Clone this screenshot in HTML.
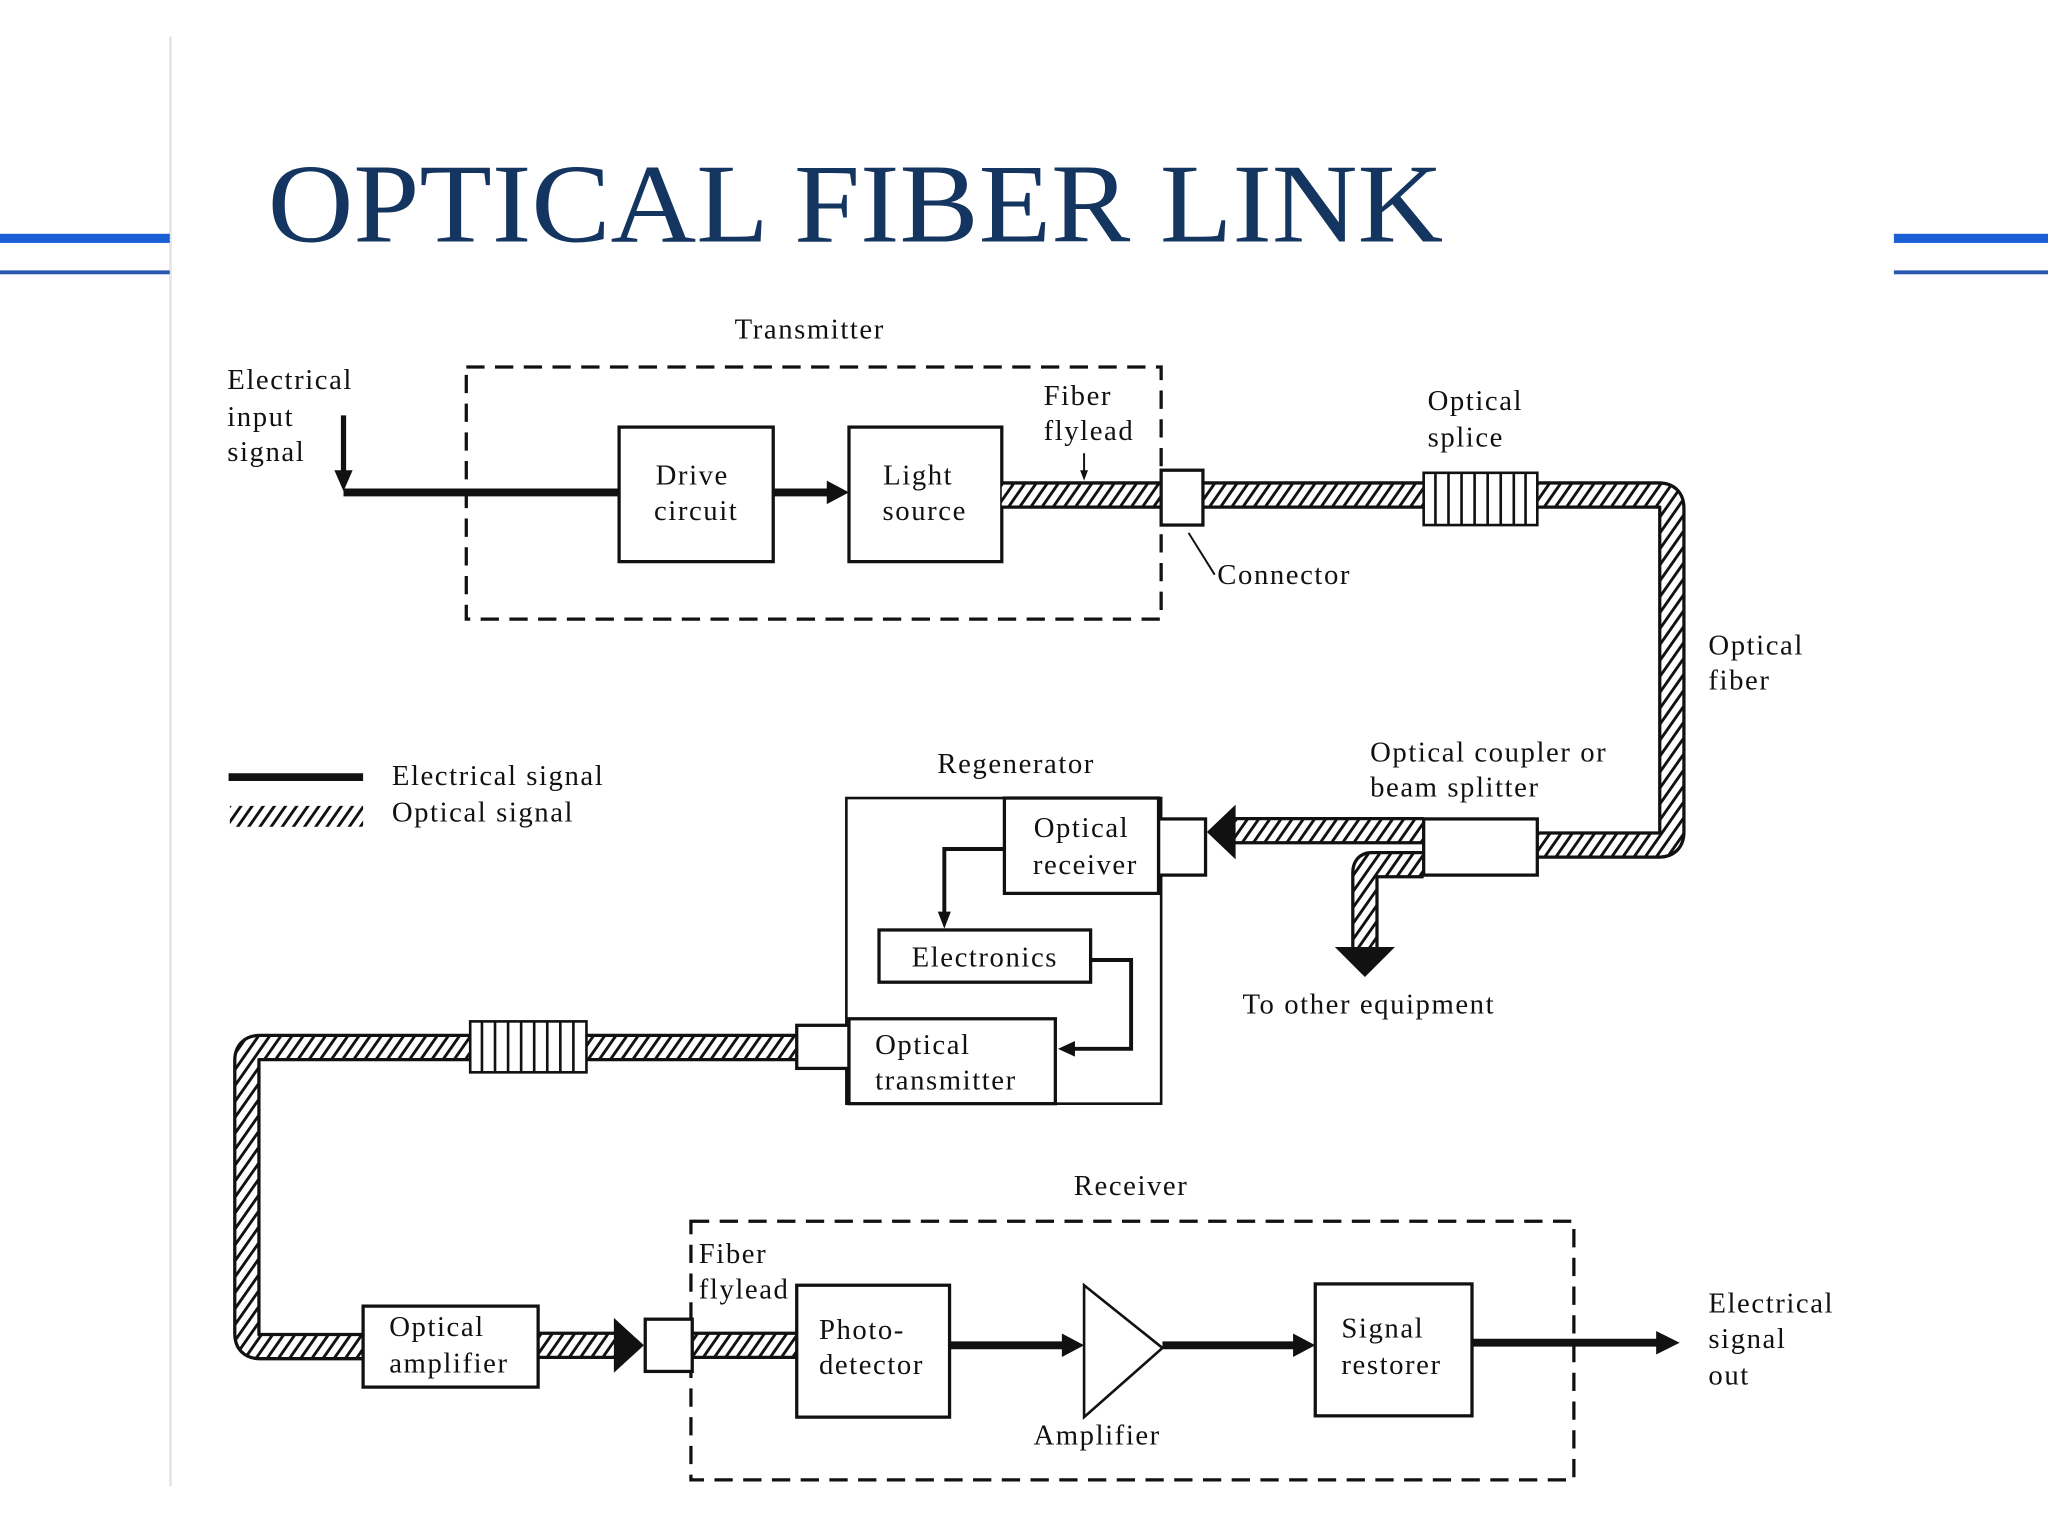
<!DOCTYPE html>
<html><head><meta charset="utf-8"><style>
html,body{margin:0;padding:0;background:#fff;}
svg{display:block;}
text{font-family:"Liberation Serif",serif;fill:#111;}
g.t text{letter-spacing:1.2px;}
</style></head><body>
<svg width="2048" height="1536" viewBox="0 0 1568 1176" xmlns="http://www.w3.org/2000/svg">
<defs>
<pattern id="h" patternUnits="userSpaceOnUse" width="7" height="7" patternTransform="rotate(35)">
<rect width="7" height="7" fill="#fff"/><rect width="2.2" height="7" fill="#111"/>
</pattern>
</defs>
<rect width="1568" height="1176" fill="#fff"/>
<line x1="130.5" y1="28" x2="130.5" y2="1138" stroke="#e4e4e4" stroke-width="2"/>
<rect x="0" y="179" width="130" height="7" fill="#1a5fd8"/>
<rect x="0" y="207" width="130" height="3" fill="#2a58b0"/>
<rect x="1450" y="179" width="118" height="7" fill="#1a5fd8"/>
<rect x="1450" y="207" width="118" height="3" fill="#2a58b0"/>
<text x="205" y="185" font-size="86" textLength="900" lengthAdjust="spacingAndGlyphs" style="fill:#143560">OPTICAL FIBER LINK</text>

<g font-size="22" class="t">
<!-- Transmitter -->
<text x="620" y="259" text-anchor="middle">Transmitter</text>
<rect x="357" y="281" width="532" height="193" fill="none" stroke="#111" stroke-width="2.5" stroke-dasharray="14,8"/>
<text x="174" y="298">Electrical</text><text x="174" y="326">input</text><text x="174" y="353">signal</text>
<line x1="263" y1="318" x2="263" y2="362" stroke="#111" stroke-width="4"/>
<polygon points="256,360 270,360 263,376" fill="#111"/>
<line x1="263" y1="377" x2="474" y2="377" stroke="#111" stroke-width="6"/>
<rect x="474" y="327" width="118" height="103" fill="#fff" stroke="#111" stroke-width="2.5"/>
<text x="530" y="371" text-anchor="middle">Drive</text><text x="533" y="398" text-anchor="middle">circuit</text>
<line x1="592" y1="377" x2="635" y2="377" stroke="#111" stroke-width="6"/>
<polygon points="633,368 650,377 633,386" fill="#111"/>
<rect x="650" y="327" width="117" height="103" fill="#fff" stroke="#111" stroke-width="2.5"/>
<text x="703" y="371" text-anchor="middle">Light</text><text x="708" y="398" text-anchor="middle">source</text>

<!-- fibers -->
<g fill="none" stroke-linejoin="round">
<path d="M767 379 H1270 Q1280 379 1280 389 V637 Q1280 647 1270 647 H1177" stroke="#111" stroke-width="21"/>
<path d="M767 379 H1270 Q1280 379 1280 389 V637 Q1280 647 1270 647 H1177" stroke="url(#h)" stroke-width="16"/>
<path d="M1090 636 H944" stroke="#111" stroke-width="21"/>
<path d="M1090 636 H944" stroke="url(#h)" stroke-width="16"/>
<path d="M1090 662 H1050 Q1045 662 1045 668 V726" stroke="#111" stroke-width="21"/>
<path d="M1090 662 H1050 Q1045 662 1045 668 V726" stroke="url(#h)" stroke-width="16"/>
<path d="M610 802 H199 Q189 802 189 812 V1021 Q189 1031 199 1031 H278" stroke="#111" stroke-width="21"/>
<path d="M610 802 H199 Q189 802 189 812 V1021 Q189 1031 199 1031 H278" stroke="url(#h)" stroke-width="16"/>
<path d="M412 1030 H472 M530 1030 H610" stroke="#111" stroke-width="21"/>
<path d="M412 1030 H472 M530 1030 H610" stroke="url(#h)" stroke-width="16"/>
</g>
<rect x="889" y="360" width="32" height="42" fill="#fff" stroke="#111" stroke-width="2.5"/>
<g stroke="#111" stroke-width="2">
<rect x="1090" y="362" width="87" height="40" fill="#fff"/>
<line x1="1099" y1="362" x2="1099" y2="402"/><line x1="1109" y1="362" x2="1109" y2="402"/><line x1="1119" y1="362" x2="1119" y2="402"/><line x1="1129" y1="362" x2="1129" y2="402"/><line x1="1139" y1="362" x2="1139" y2="402"/><line x1="1149" y1="362" x2="1149" y2="402"/><line x1="1159" y1="362" x2="1159" y2="402"/><line x1="1168" y1="362" x2="1168" y2="402"/>
<rect x="360" y="782" width="89" height="39" fill="#fff"/>
<line x1="369" y1="782" x2="369" y2="821"/><line x1="379" y1="782" x2="379" y2="821"/><line x1="389" y1="782" x2="389" y2="821"/><line x1="399" y1="782" x2="399" y2="821"/><line x1="409" y1="782" x2="409" y2="821"/><line x1="419" y1="782" x2="419" y2="821"/><line x1="429" y1="782" x2="429" y2="821"/><line x1="439" y1="782" x2="439" y2="821"/>
</g>
<text x="799" y="310">Fiber</text><text x="799" y="337">flylead</text>
<line x1="830" y1="347" x2="830" y2="362" stroke="#111" stroke-width="1.5"/><polygon points="827,360 833,360 830,368" fill="#111"/>
<text x="1093" y="314">Optical</text><text x="1093" y="342">splice</text>
<line x1="910" y1="408" x2="930" y2="440" stroke="#111" stroke-width="1.5"/>
<text x="932" y="447">Connector</text>
<text x="1308" y="501">Optical</text><text x="1308" y="528">fiber</text>
<text x="1049" y="583">Optical coupler or</text><text x="1049" y="610">beam splitter</text>
<rect x="1090" y="627" width="87" height="43" fill="#fff" stroke="#111" stroke-width="2.5"/>
<polygon points="946,616 946,658 924,637" fill="#111"/>
<polygon points="1022,725 1068,725 1045,748" fill="#111"/>
<text x="1048" y="776" text-anchor="middle">To other equipment</text>

<!-- legend -->
<line x1="175" y1="595" x2="278" y2="595" stroke="#111" stroke-width="6"/>
<rect x="176" y="617" width="102" height="16" fill="url(#h)"/>
<text x="300" y="601">Electrical signal</text><text x="300" y="629">Optical signal</text>

<!-- regenerator -->
<text x="778" y="592" text-anchor="middle">Regenerator</text>
<rect x="648" y="611" width="241" height="234" fill="none" stroke="#111" stroke-width="2"/>
<rect x="887" y="627" width="36" height="43" fill="#fff" stroke="#111" stroke-width="2.5"/>
<rect x="769" y="611" width="118" height="73" fill="#fff" stroke="#111" stroke-width="2.5"/>
<text x="828" y="641" text-anchor="middle">Optical</text><text x="831" y="669" text-anchor="middle">receiver</text>
<polyline points="769,650 723,650 723,700" fill="none" stroke="#111" stroke-width="3"/>
<polygon points="718,698 728,698 723,711" fill="#111"/>
<rect x="673" y="712" width="162" height="40" fill="#fff" stroke="#111" stroke-width="2.5"/>
<text x="754" y="740" text-anchor="middle">Electronics</text>
<polyline points="835,735 866,735 866,803 822,803" fill="none" stroke="#111" stroke-width="3"/>
<polygon points="823,797 823,809 810,803" fill="#111"/>
<rect x="610" y="785" width="40" height="33" fill="#fff" stroke="#111" stroke-width="2.5"/>
<rect x="650" y="780" width="158" height="65" fill="#fff" stroke="#111" stroke-width="2.5"/>
<text x="670" y="807">Optical</text><text x="670" y="834">transmitter</text>

<!-- receiver -->
<text x="866" y="915" text-anchor="middle">Receiver</text>
<rect x="529" y="935" width="676" height="198" fill="none" stroke="#111" stroke-width="2.5" stroke-dasharray="14,8"/>
<rect x="278" y="1000" width="134" height="62" fill="#fff" stroke="#111" stroke-width="2.5"/>
<text x="298" y="1023">Optical</text><text x="298" y="1051">amplifier</text>
<polygon points="470,1009 493,1030 470,1051" fill="#111"/>
<rect x="494" y="1010" width="36" height="40" fill="#fff" stroke="#111" stroke-width="2.5"/>
<text x="535" y="967">Fiber</text><text x="535" y="994">flylead</text>
<rect x="610" y="984" width="117" height="101" fill="#fff" stroke="#111" stroke-width="2.5"/>
<text x="627" y="1025">Photo-</text><text x="627" y="1052">detector</text>
<line x1="727" y1="1030" x2="815" y2="1030" stroke="#111" stroke-width="6"/>
<polygon points="813,1021 830,1030 813,1039" fill="#111"/>
<polygon points="830,984 890,1032 830,1085" fill="#fff" stroke="#111" stroke-width="2"/>
<line x1="890" y1="1030" x2="992" y2="1030" stroke="#111" stroke-width="6"/>
<polygon points="990,1021 1007,1030 990,1039" fill="#111"/>
<rect x="1007" y="983" width="120" height="101" fill="#fff" stroke="#111" stroke-width="2.5"/>
<text x="1027" y="1024">Signal</text><text x="1027" y="1052">restorer</text>
<line x1="1127" y1="1028" x2="1270" y2="1028" stroke="#111" stroke-width="6"/>
<polygon points="1268,1019 1286,1028 1268,1037" fill="#111"/>
<text x="840" y="1106" text-anchor="middle">Amplifier</text>
<text x="1308" y="1005">Electrical</text><text x="1308" y="1032">signal</text><text x="1308" y="1060">out</text>
</g>
</svg>
</body></html>
